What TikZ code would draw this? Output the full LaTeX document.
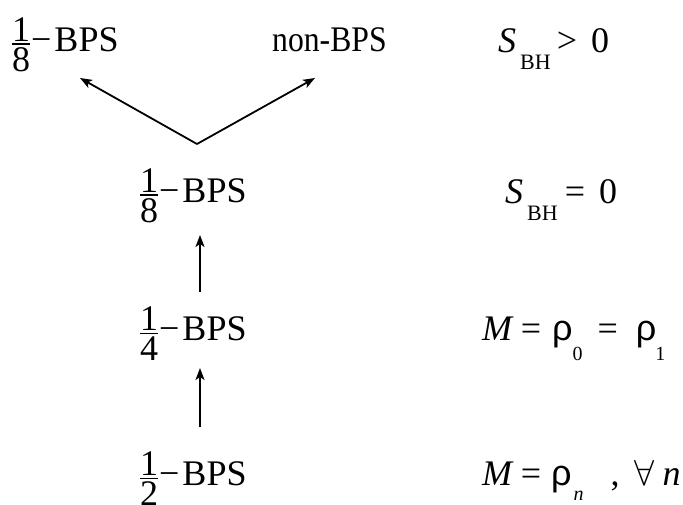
\documentclass[tikz,border=0pt]{standalone}
\usepackage{fontspec}
\usepackage{graphicx}
\setmainfont{Liberation Serif}
\newfontfamily\rhofont{Liberation Sans}
\usetikzlibrary{arrows.meta}
\newcommand\bigfont{\fontsize{36}{40}\selectfont}
\newcommand\subfont{\fontsize{22}{22}\selectfont}
\newcommand\smallsub{\fontsize{20}{20}\selectfont}
\newcommand\fr[2]{$\vcenter{\offinterlineskip\halign{\hfil##\hfil\cr #1\cr\noalign{\kern2pt\hrule height1.3pt\kern3pt}#2\cr}}$}
\newcommand\Sbh{\textit{S}\kern4pt\raisebox{-17pt}{\subfont BH}}
\newcommand\rh[2]{{\rhofont ρ}\kern#2\raisebox{-20pt}{\smallsub #1}}
\newcommand\bps{\kern1pt−\kern3pt BPS}
\begin{document}
\begin{tikzpicture}[x=1pt,y=-1pt,
  lab/.style={anchor=base west, inner sep=0pt, font=\bigfont},
  arr/.style={-{Stealth[length=12pt,width=9pt,inset=3pt]}, line width=1.8pt}]
\useasboundingbox (0,0) rectangle (683,504);
% left column
\node[lab] (e1) at (12,51) {\fr{1}{8}\bps};
\node[lab] (nb) at (272,51) {\scalebox{0.88}[1]{non-BPS}};
\node[lab] (e2) at (140,202) {\fr{1}{8}\bps};
\node[lab] (q) at (140,340) {\fr{1}{4}\bps};
\node[lab] (h) at (140,485) {\fr{1}{2}\bps};
% right column
\node[lab] (s1) at (498,52) {\Sbh\kern6pt>\kern14pt 0};
\node[lab] (s2) at (505,203) {\Sbh\kern7pt=\kern14pt 0};
\node[lab] (m1) at (482,340) {\textit{M}\kern7pt=\kern11pt\rh{0}{0pt}\kern15pt=\kern18pt\rh{1}{-1pt}};
\node[lab] (m2) at (482,485) {\textit{M}\kern7pt=\kern10pt{\rhofont ρ}\kern2pt\raisebox{-15pt}{\smallsub\textit{n}}\kern27pt,\kern15pt\scalebox{1.45}{$\forall$}\kern8pt\textit{n}};
% connectors
\coordinate (apex) at (197,144);
\coordinate (tl) at (80,78);
\coordinate (tr) at (315,78);
\draw[arr] (apex) -- (tl);
\draw[arr] (apex) -- (tr);
\coordinate (a1s) at (200,292);
\coordinate (a1e) at (200,235);
\coordinate (a2s) at (200,427);
\coordinate (a2e) at (200,368);
\draw[arr] (a1s) -- (a1e);
\draw[arr] (a2s) -- (a2e);
\end{tikzpicture}
\end{document}
